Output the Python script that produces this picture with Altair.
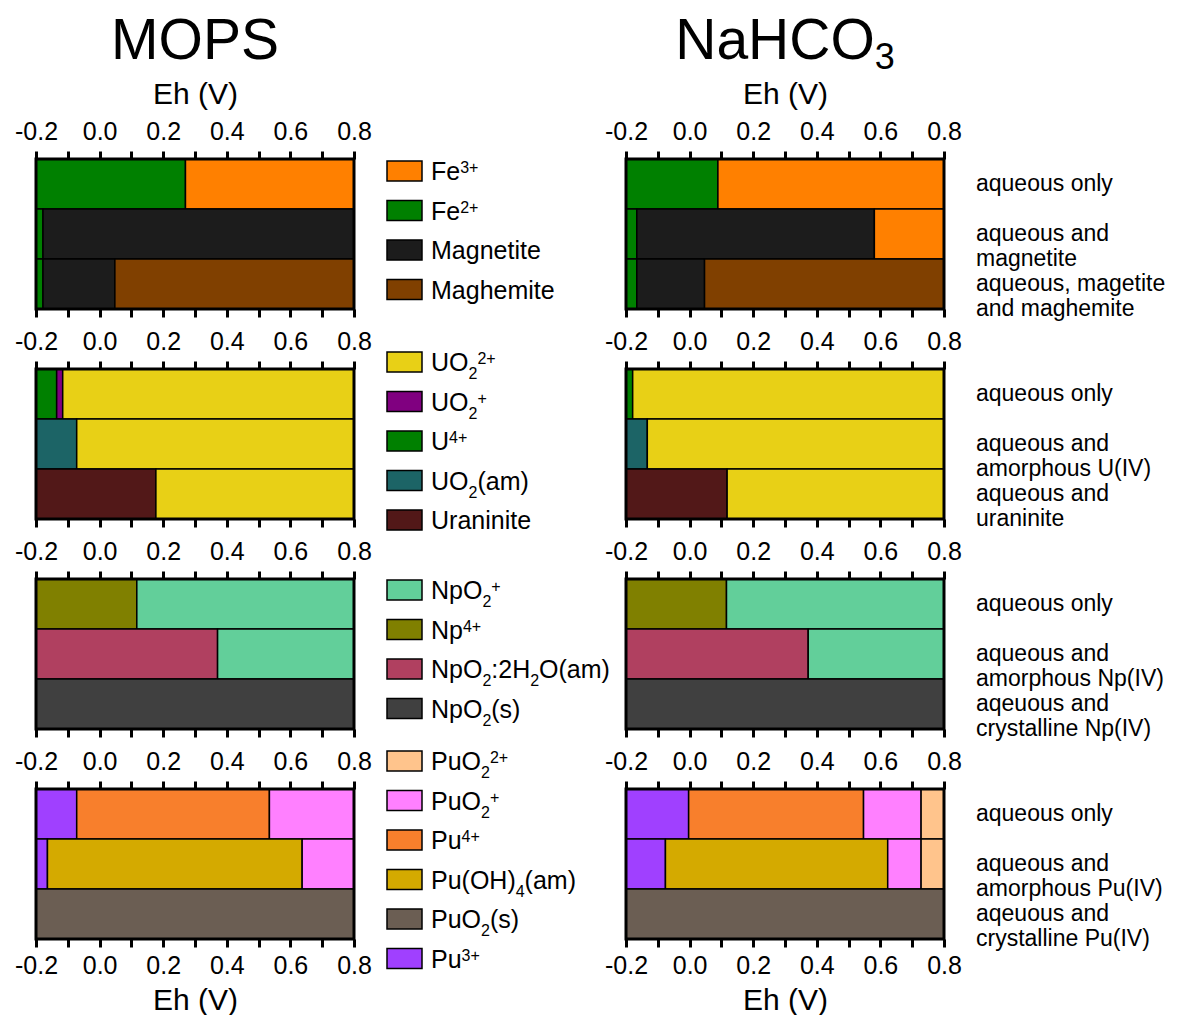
import re
import altair as alt
import pandas as pd

FONT = "Liberation Sans"

# ---------------- species / colours ----------------
SPECIES = ["Fe3+", "Fe2+", "Magnetite", "Maghemite",
           "UO2 2+", "UO2+", "U4+", "UO2(am)", "Uraninite",
           "NpO2+", "Np4+", "NpO2:2H2O(am)", "NpO2(s)",
           "PuO2 2+", "PuO2+", "Pu4+", "Pu(OH)4(am)", "PuO2(s)", "Pu3+"]
COLORS = ["#FF8000", "#008000", "#1C1C1C", "#804000",
          "#E8D016", "#800080", "#008000", "#1C6466", "#521818",
          "#62CF9A", "#808000", "#B04060", "#404040",
          "#FFC48C", "#FF80FF", "#F87F2C", "#D4AA00", "#6B5E53", "#A040FF"]

# ---------------- data: species per bar and Eh boundaries ----------------
FE_MOPS_SPECIES = [["Fe2+", "Fe3+"], ["Fe2+", "Magnetite"], ["Fe2+", "Magnetite", "Maghemite"]]
FE_MOPS_EDGES = [[-0.2, 0.27, 0.8], [-0.2, -0.178, 0.8], [-0.2, -0.178, 0.048, 0.8]]
FE_NAHCO3_SPECIES = [["Fe2+", "Fe3+"], ["Fe2+", "Magnetite", "Fe3+"], ["Fe2+", "Magnetite", "Maghemite"]]
FE_NAHCO3_EDGES = [[-0.2, 0.089, 0.8], [-0.2, -0.166, 0.581, 0.8], [-0.2, -0.166, 0.047, 0.8]]

U_MOPS_SPECIES = [["U4+", "UO2+", "UO2 2+"], ["UO2(am)", "UO2 2+"], ["Uraninite", "UO2 2+"]]
U_MOPS_EDGES = [[-0.2, -0.135, -0.116, 0.8], [-0.2, -0.072, 0.8], [-0.2, 0.177, 0.8]]
U_NAHCO3_SPECIES = [["U4+", "UO2 2+"], ["UO2(am)", "UO2 2+"], ["Uraninite", "UO2 2+"]]
U_NAHCO3_EDGES = [[-0.2, -0.179, 0.8], [-0.2, -0.133, 0.8], [-0.2, 0.118, 0.8]]

NP_MOPS_SPECIES = [["Np4+", "NpO2+"], ["NpO2:2H2O(am)", "NpO2+"], ["NpO2(s)"]]
NP_MOPS_EDGES = [[-0.2, 0.117, 0.8], [-0.2, 0.371, 0.8], [-0.2, 0.8]]
NP_NAHCO3_SPECIES = [["Np4+", "NpO2+"], ["NpO2:2H2O(am)", "NpO2+"], ["NpO2(s)"]]
NP_NAHCO3_EDGES = [[-0.2, 0.116, 0.8], [-0.2, 0.373, 0.8], [-0.2, 0.8]]

PU_MOPS_SPECIES = [["Pu3+", "Pu4+", "PuO2+"], ["Pu3+", "Pu(OH)4(am)", "PuO2+"], ["PuO2(s)"]]
PU_MOPS_EDGES = [[-0.2, -0.072, 0.534, 0.8], [-0.2, -0.164, 0.637, 0.8], [-0.2, 0.8]]
PU_NAHCO3_SPECIES = [["Pu3+", "Pu4+", "PuO2+", "PuO2 2+"], ["Pu3+", "Pu(OH)4(am)", "PuO2+", "PuO2 2+"], ["PuO2(s)"]]
PU_NAHCO3_EDGES = [[-0.2, -0.003, 0.547, 0.728, 0.8], [-0.2, -0.076, 0.623, 0.728, 0.8], [-0.2, 0.8]]

# ---------------- legends ----------------
FE_LEG_KEYS = ["Fe3+", "Fe2+", "Magnetite", "Maghemite"]
FE_LEG_TEXT = ["Fe^{3+}", "Fe^{2+}", "Magnetite", "Maghemite"]
U_LEG_KEYS = ["UO2 2+", "UO2+", "U4+", "UO2(am)", "Uraninite"]
U_LEG_TEXT = ["UO_{2}^{2+}", "UO_{2}^{+}", "U^{4+}", "UO_{2}(am)", "Uraninite"]
NP_LEG_KEYS = ["NpO2+", "Np4+", "NpO2:2H2O(am)", "NpO2(s)"]
NP_LEG_TEXT = ["NpO_{2}^{+}", "Np^{4+}", "NpO_{2}:2H_{2}O(am)", "NpO_{2}(s)"]
PU_LEG_KEYS = ["PuO2 2+", "PuO2+", "Pu4+", "Pu(OH)4(am)", "PuO2(s)", "Pu3+"]
PU_LEG_TEXT = ["PuO_{2}^{2+}", "PuO_{2}^{+}", "Pu^{4+}", "Pu(OH)_{4}(am)", "PuO_{2}(s)", "Pu^{3+}"]

# ---------------- right-hand labels ----------------
FE_LABELS = ["aqueous only", "aqueous and\nmagnetite", "aqueous, magetite\nand maghemite"]
U_LABELS = ["aqueous only", "aqueous and\namorphous U(IV)", "aqueous and\nuraninite"]
NP_LABELS = ["aqueous only", "aqueous and\namorphous Np(IV)", "aqeuous and\ncrystalline Np(IV)"]
PU_LABELS = ["aqueous only", "aqueous and\namorphous Pu(IV)", "aqeuous and\ncrystalline Pu(IV)"]

TICKS = [round(-0.2 + 0.1 * i, 1) for i in range(11)]

# ---------------- layout constants ----------------
PW, PH = 318, 150
LEGW = 272
FS = 25
LABFS = 23
SFS = 16
LEG_FIRST = [12, -7, 11, -28]
LEG_STEP = 39.5

AW = {' ': 278, '(': 333, ')': 333, '+': 584, ',': 278, '-': 333, '.': 278, ':': 278,
      'A': 667, 'C': 722, 'E': 667, 'F': 611, 'H': 722, 'I': 278, 'M': 833, 'N': 722,
      'O': 778, 'P': 667, 'S': 667, 'U': 722, 'V': 667,
      'a': 556, 'c': 500, 'e': 556, 'g': 556, 'h': 556, 'i': 222, 'l': 222, 'm': 833,
      'n': 556, 'o': 556, 'p': 556, 'q': 556, 'r': 333, 's': 500, 't': 278, 'u': 556,
      'y': 500}


def tw(s, fs):
    return sum(AW.get(c, 556) for c in s) / 1000.0 * fs


def parse(s):
    out = []
    for tok in re.findall(r'\^\{[^}]*\}|_\{[^}]*\}|[^^_]+', s):
        if tok.startswith('^{'):
            out.append(("sup", tok[2:-1]))
        elif tok.startswith('_{'):
            out.append(("sub", tok[2:-1]))
        else:
            out.append(("main", tok))
    return out


COLOR_SCALE = alt.Scale(domain=SPECIES, range=COLORS)
LABEL_EXPR = ("abs(round(datum.value*10)) % 2 == 0 ? "
              "replace(format(datum.value, '.1f'), '\u2212', '-') : ''")
NO_VIEW = alt.ViewBackground(strokeWidth=0, strokeOpacity=0)


def axis(orient, labels, title, label_pad, title_pad):
    kw = dict(orient=orient, values=TICKS, labels=labels, labelExpr=LABEL_EXPR,
              tickSize=8, tickWidth=3, tickColor="black", domain=False, grid=False,
              labelFlush=False, labelOverlap=False, labelFontSize=FS, labelFont=FONT,
              labelColor="black", labelPadding=label_pad, title=title,
              titleFontSize=30, titleFont=FONT, titleFontWeight="normal",
              titleColor="black", titlePadding=title_pad)
    return alt.Axis(**kw)


def panel(species_rows, edges_rows, top, bottom, title=None, labels=None):
    recs = []
    for b, (sp, ed) in enumerate(zip(species_rows, edges_rows)):
        for i, s in enumerate(sp):
            recs.append({"bar": b, "bar2": b + 1, "start": ed[i], "end": ed[i + 1], "species": s})
    df = pd.DataFrame(recs)
    xs = alt.Scale(domain=[-0.2, 0.8], nice=False, zero=False)
    ys = alt.Scale(domain=[0, 3], reverse=True, nice=False, zero=False)

    bars = alt.Chart(df).mark_rect(stroke="black", strokeWidth=1.5).encode(
        x=alt.X("start:Q", scale=xs, axis=axis("top", True, "Eh (V)" if top else None, 7, 10)),
        x2="end:Q",
        y=alt.Y("bar:Q", scale=ys, axis=None),
        y2="bar2:Q",
        fill=alt.Fill("species:N", scale=COLOR_SCALE, legend=None),
    )
    bot = alt.Chart(df).mark_point(opacity=0).encode(
        x=alt.X("end:Q", scale=xs, axis=axis("bottom", bottom, "Eh (V)" if bottom else None, 6, 7)),
        y=alt.Y("bar:Q", scale=ys, axis=None),
    )
    frame = alt.Chart(pd.DataFrame({"f": [0]})).mark_rect(
        fillOpacity=0, stroke="black", strokeWidth=3).encode(
        x=alt.value(0), x2=alt.value(PW), y=alt.value(0), y2=alt.value(PH))
    layers = [bars, bot, frame]

    if labels:
        ldf = pd.DataFrame({"mid": [i + 0.5 for i in range(len(labels))], "txt": labels})
        layers.append(alt.Chart(ldf).mark_text(
            align="left", baseline="middle", fontSize=LABFS, font=FONT, color="black",
            lineBreak="\n", lineHeight=25).encode(
            x=alt.value(PW + 32), y=alt.Y("mid:Q", scale=ys, axis=None), text="txt:N"))

    if title:
        parts = parse(title)
        sizes = {"main": 57, "sub": 36, "sup": 36}
        total = sum(tw(t, sizes[k]) for k, t in parts)
        cur = PW / 2 - total / 2
        for k, t in parts:
            layers.append(alt.Chart(pd.DataFrame({"t": [t]})).mark_text(
                align="left", baseline="alphabetic", fontSize=sizes[k], font=FONT,
                color="black").encode(
                x=alt.value(cur), y=alt.value(-100 + (10 if k == "sub" else 0)), text="t:N"))
            cur += tw(t, sizes[k])

    return alt.layer(*layers).resolve_axis(x="independent").properties(
        width=PW, height=PH, view=NO_VIEW)


def legend(keys, texts, first):
    sw = pd.DataFrame({"idx": list(range(len(keys))), "species": keys})
    segs = {"main": [], "sup": [], "sub": []}
    for i, t in enumerate(texts):
        cur = 77
        for kind, s in parse(t):
            fs = FS if kind == "main" else SFS
            segs[kind].append({"idx": i, "xo": cur, "t": s})
            cur += tw(s, fs)
    ys = alt.Scale(domain=[0, 1], range=[first, first + LEG_STEP], nice=False, zero=False)
    xs = alt.Scale(domain=[0, 100], range=[0, 100], nice=False, zero=False)
    half = 10 / LEG_STEP
    swatch = alt.Chart(sw).transform_calculate(
        y1=f"datum.idx - {half}", y2=f"datum.idx + {half}"
    ).mark_rect(stroke="black", strokeWidth=1.5).encode(
        x=alt.value(33), x2=alt.value(68),
        y=alt.Y("y1:Q", scale=ys, axis=None), y2="y2:Q",
        fill=alt.Fill("species:N", scale=COLOR_SCALE, legend=None))
    layers = [swatch]
    for kind, dy, fs in [("main", 9, FS), ("sup", 2, SFS), ("sub", 17, SFS)]:
        if segs[kind]:
            layers.append(alt.Chart(pd.DataFrame(segs[kind])).mark_text(
                align="left", baseline="alphabetic", dy=dy, fontSize=fs, font=FONT,
                color="black").encode(
                x=alt.X("xo:Q", scale=xs, axis=None),
                y=alt.Y("idx:Q", scale=ys, axis=None),
                text="t:N"))
    return alt.layer(*layers).properties(width=LEGW, height=PH, view=NO_VIEW)


rows_def = [
    (FE_MOPS_SPECIES, FE_MOPS_EDGES, FE_NAHCO3_SPECIES, FE_NAHCO3_EDGES, FE_LEG_KEYS, FE_LEG_TEXT, FE_LABELS),
    (U_MOPS_SPECIES, U_MOPS_EDGES, U_NAHCO3_SPECIES, U_NAHCO3_EDGES, U_LEG_KEYS, U_LEG_TEXT, U_LABELS),
    (NP_MOPS_SPECIES, NP_MOPS_EDGES, NP_NAHCO3_SPECIES, NP_NAHCO3_EDGES, NP_LEG_KEYS, NP_LEG_TEXT, NP_LABELS),
    (PU_MOPS_SPECIES, PU_MOPS_EDGES, PU_NAHCO3_SPECIES, PU_NAHCO3_EDGES, PU_LEG_KEYS, PU_LEG_TEXT, PU_LABELS),
]

cells = []
for r, (ls, le, rs, re_, lk, lt, lab) in enumerate(rows_def):
    top = r == 0
    bottom = r == len(rows_def) - 1
    cells.append(panel(ls, le, top, bottom, title="MOPS" if top else None))
    cells.append(legend(lk, lt, LEG_FIRST[r]))
    cells.append(panel(rs, re_, top, bottom, title="NaHCO_{3}" if top else None, labels=lab))

chart = alt.concat(*cells, columns=3, spacing={"row": 60, "column": 0},
                   bounds="flush").configure_view(
    stroke="transparent", strokeWidth=0
).configure(font=FONT).properties(
    padding={"left": 6, "top": 5, "right": 0, "bottom": 0})

chart.save("out.html", embed_options={"renderer": "svg", "actions": False})
